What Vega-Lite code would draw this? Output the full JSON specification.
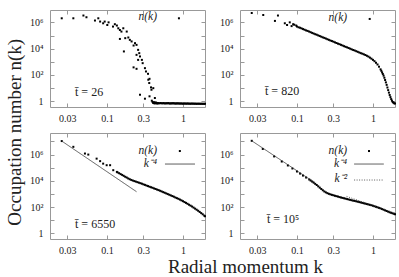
{
"$schema": "https://vega.github.io/schema/vega-lite/v6.json",
"padding": {"left": 6, "right": 2, "top": 9, "bottom": 0},
"config": {
  "view": {"stroke": "#999", "strokeWidth": 1},
  "font": "Liberation Serif",
  "axis": {"domain": false, "grid": false, "tickColor": "#999", "tickSize": -4, "labelFont": "Liberation Serif", "labelFontSize": 10, "labelColor": "#222", "title": null, "labelFlush": false, "labelOverlap": false},
  "axisX": {"labelPadding": 10},
  "axisY": {"labelPadding": 11},
  "title": {"font": "Liberation Serif", "fontWeight": "normal", "color": "#222", "fontSize": 19, "anchor": "middle"}
},
"datasets": {
"pts": [
{"p":1,"k":0.0254,"n":2.04e6},{"p":1,"k":0.0361,"n":2.04e6},{"p":1,"k":0.049,"n":3.31e6},{"p":1,"k":0.0537,"n":2.45e6},{"p":1,"k":0.0695,"n":1.38e6},{"p":1,"k":0.0769,"n":2.04e6},{"p":1,"k":0.0813,"n":1.15e6},{"p":1,"k":0.0891,"n":8.51e5},{"p":1,"k":0.0933,"n":1.15e6},{"p":1,"k":0.105,"n":1.0e6},{"p":1,"k":0.101,"n":6.31e5},{"p":1,"k":0.12,"n":4.79e5},{"p":1,"k":0.127,"n":7.24e5},{"p":1,"k":0.135,"n":5.75e5},{"p":1,"k":0.141,"n":3.55e5},{"p":1,"k":0.148,"n":2.63e5},{"p":1,"k":0.155,"n":2.0e5},{"p":1,"k":0.164,"n":3.55e5},{"p":1,"k":0.182,"n":2.0e5},{"p":1,"k":0.148,"n":5.5e4},{"p":1,"k":0.174,"n":6.31e4},{"p":1,"k":0.191,"n":7.08e4},{"p":1,"k":0.2,"n":4.68e4},{"p":1,"k":0.211,"n":3.55e4},{"p":1,"k":0.234,"n":2.63e4},{"p":1,"k":0.224,"n":1.74e4},{"p":1,"k":0.245,"n":1.95e4},{"p":1,"k":0.167,"n":6170},{"p":1,"k":0.257,"n":8130},{"p":1,"k":0.266,"n":4570},{"p":1,"k":0.245,"n":3390},{"p":1,"k":0.272,"n":2570},{"p":1,"k":0.288,"n":1410},{"p":1,"k":0.257,"n":1410},{"p":1,"k":0.295,"n":794},{"p":1,"k":0.224,"n":380},{"p":1,"k":0.245,"n":295},{"p":1,"k":0.316,"n":331},{"p":1,"k":0.326,"n":186},{"p":1,"k":0.347,"n":123},{"p":1,"k":0.35,"n":43.7},{"p":1,"k":0.363,"n":51.3},{"p":1,"k":0.36,"n":24.5},{"p":1,"k":0.38,"n":11.5},{"p":1,"k":0.385,"n":7.59},{"p":1,"k":0.407,"n":10},{"p":1,"k":0.272,"n":3.16},{"p":1,"k":0.316,"n":1.58},{"p":1,"k":0.363,"n":2.4},{"p":1,"k":0.389,"n":1.12},{"p":1,"k":0.427,"n":1.78},{"p":1,"k":0.407,"n":0.74},{"p":1,"k":0.398,"n":0.9},{"p":1,"k":0.418,"n":0.85},
{"p":1,"k":0.41,"n":0.8},{"p":1,"k":0.415,"n":0.72},{"p":1,"k":0.422,"n":0.76},{"p":1,"k":0.428,"n":0.7},{"p":1,"k":0.435,"n":0.74},{"p":1,"k":0.44,"n":0.82},{"p":1,"k":0.448,"n":0.72},{"p":1,"k":0.455,"n":0.69},{"p":1,"k":0.461,"n":0.75},{"p":1,"k":0.468,"n":0.71},{"p":1,"k":0.475,"n":0.73},{"p":1,"k":0.489,"n":0.7},{"p":1,"k":0.504,"n":0.74},{"p":1,"k":0.519,"n":0.72},{"p":1,"k":0.535,"n":0.7},{"p":1,"k":0.551,"n":0.73},{"p":1,"k":0.567,"n":0.71},{"p":1,"k":0.584,"n":0.69},{"p":1,"k":0.602,"n":0.72},{"p":1,"k":0.62,"n":0.7},{"p":1,"k":0.638,"n":0.73},{"p":1,"k":0.657,"n":0.7},{"p":1,"k":0.677,"n":0.68},{"p":1,"k":0.697,"n":0.71},{"p":1,"k":0.718,"n":0.69},{"p":1,"k":0.74,"n":0.72},{"p":1,"k":0.762,"n":0.69},{"p":1,"k":0.785,"n":0.7},{"p":1,"k":0.808,"n":0.67},{"p":1,"k":0.833,"n":0.71},{"p":1,"k":0.857,"n":0.68},{"p":1,"k":0.883,"n":0.7},{"p":1,"k":0.91,"n":0.67},{"p":1,"k":0.937,"n":0.69},{"p":1,"k":0.965,"n":0.68},{"p":1,"k":0.994,"n":0.66},{"p":1,"k":1.024,"n":0.69},{"p":1,"k":1.055,"n":0.67},{"p":1,"k":1.086,"n":0.68},{"p":1,"k":1.119,"n":0.66},{"p":1,"k":1.152,"n":0.69},{"p":1,"k":1.187,"n":0.66},{"p":1,"k":1.222,"n":0.67},{"p":1,"k":1.259,"n":0.65},{"p":1,"k":1.297,"n":0.68},{"p":1,"k":1.336,"n":0.66},{"p":1,"k":1.376,"n":0.67},{"p":1,"k":1.417,"n":0.65},{"p":1,"k":1.46,"n":0.67},{"p":1,"k":1.503,"n":0.64},{"p":1,"k":1.548,"n":0.66},{"p":1,"k":1.595,"n":0.65},{"p":1,"k":1.643,"n":0.66},{"p":1,"k":1.692,"n":0.64},{"p":1,"k":1.743,"n":0.66},{"p":1,"k":1.795,"n":0.64},{"p":1,"k":1.849,"n":0.65},{"p":1,"k":1.905,"n":0.64},{"p":1,"k":1.95,"n":0.65},
{"p":2,"k":0.0254,"n":5.13e6},{"p":2,"k":0.036,"n":3.63e6},{"p":2,"k":0.0513,"n":1.29e6},{"p":2,"k":0.0562,"n":3.31e6},{"p":2,"k":0.0692,"n":8.51e5},{"p":2,"k":0.0741,"n":6.31e5},{"p":2,"k":0.0804,"n":1.0e6},{"p":2,"k":0.085,"n":5.2e5},{"p":2,"k":0.0891,"n":7.24e5},{"p":2,"k":0.092,"n":6.6e5},{"p":2,"k":0.0977,"n":5.75e5},{"p":2,"k":0.1,"n":4.8e5},{"p":2,"k":0.105,"n":4.2e5},
{"p":2,"k":0.11,"n":389000},{"p":2,"k":0.115,"n":347000},{"p":2,"k":0.1202,"n":309000},{"p":2,"k":0.1259,"n":275000},{"p":2,"k":0.1318,"n":245000},{"p":2,"k":0.138,"n":224000},{"p":2,"k":0.1445,"n":200000},{"p":2,"k":0.1514,"n":178000},{"p":2,"k":0.1585,"n":158000},{"p":2,"k":0.166,"n":141000},{"p":2,"k":0.1738,"n":126000},{"p":2,"k":0.182,"n":115000},{"p":2,"k":0.1905,"n":102000},{"p":2,"k":0.1995,"n":91200},{"p":2,"k":0.2089,"n":81300},{"p":2,"k":0.2188,"n":72400},{"p":2,"k":0.2291,"n":66100},{"p":2,"k":0.2399,"n":58900},{"p":2,"k":0.2512,"n":52500},{"p":2,"k":0.263,"n":46800},{"p":2,"k":0.2754,"n":41700},{"p":2,"k":0.2884,"n":38000},{"p":2,"k":0.302,"n":33900},{"p":2,"k":0.3162,"n":30200},{"p":2,"k":0.3311,"n":26900},{"p":2,"k":0.3467,"n":24000},{"p":2,"k":0.3631,"n":21900},{"p":2,"k":0.3802,"n":19500},{"p":2,"k":0.3981,"n":17400},{"p":2,"k":0.4169,"n":15500},{"p":2,"k":0.4365,"n":13800},{"p":2,"k":0.4571,"n":12600},{"p":2,"k":0.4786,"n":11200},{"p":2,"k":0.5012,"n":10000},{"p":2,"k":0.5248,"n":8910},{"p":2,"k":0.5495,"n":7940},{"p":2,"k":0.5754,"n":7240},{"p":2,"k":0.6026,"n":6460},{"p":2,"k":0.631,"n":5750},{"p":2,"k":0.6607,"n":5130},{"p":2,"k":0.6918,"n":4570},{"p":2,"k":0.7244,"n":4170},{"p":2,"k":0.7586,"n":3720},{"p":2,"k":0.7943,"n":3310},{"p":2,"k":0.8318,"n":2880},{"p":2,"k":0.871,"n":2510},{"p":2,"k":0.912,"n":2090},{"p":2,"k":0.955,"n":1740},{"p":2,"k":1.0,"n":1410},{"p":2,"k":1.047,"n":1120},{"p":2,"k":1.096,"n":851},{"p":2,"k":1.148,"n":631},{"p":2,"k":1.202,"n":427},{"p":2,"k":1.259,"n":269},{"p":2,"k":1.288,"n":209},{"p":2,"k":1.318,"n":158},{"p":2,"k":1.349,"n":120},{"p":2,"k":1.38,"n":89.1},{"p":2,"k":1.413,"n":61.7},{"p":2,"k":1.445,"n":41.7},{"p":2,"k":1.479,"n":27.5},{"p":2,"k":1.514,"n":17.8},{"p":2,"k":1.549,"n":11.2},{"p":2,"k":1.585,"n":7.08},{"p":2,"k":1.622,"n":4.57},{"p":2,"k":1.66,"n":3.02},{"p":2,"k":1.698,"n":2.09},{"p":2,"k":1.738,"n":1.48},{"p":2,"k":1.778,"n":1.12},{"p":2,"k":1.82,"n":0.891},{"p":2,"k":1.862,"n":0.776},{"p":2,"k":1.905,"n":0.708},{"p":2,"k":1.95,"n":0.676},
{"p":3,"k":0.0254,"n":1.07e7},{"p":3,"k":0.0361,"n":3.89e6},{"p":3,"k":0.0513,"n":1.2e6},{"p":3,"k":0.0568,"n":1.0e6},{"p":3,"k":0.0731,"n":4.9e5},{"p":3,"k":0.0813,"n":3.16e5},{"p":3,"k":0.0891,"n":2.04e5},{"p":3,"k":0.0991,"n":1.55e5},{"p":3,"k":0.11,"n":1.55e5},{"p":3,"k":0.121,"n":6.46e4},{"p":3,"k":0.135,"n":4.79e4},
{"p":3,"k":0.138,"n":43600},{"p":3,"k":0.1445,"n":38000},{"p":3,"k":0.1514,"n":32400},{"p":3,"k":0.1585,"n":28200},{"p":3,"k":0.166,"n":24000},{"p":3,"k":0.1738,"n":20400},{"p":3,"k":0.182,"n":17800},{"p":3,"k":0.1905,"n":15100},{"p":3,"k":0.1995,"n":13200},{"p":3,"k":0.2089,"n":11700},{"p":3,"k":0.2188,"n":10500},{"p":3,"k":0.2291,"n":9550},{"p":3,"k":0.2399,"n":8710},{"p":3,"k":0.2512,"n":7940},{"p":3,"k":0.263,"n":7240},{"p":3,"k":0.2754,"n":6610},{"p":3,"k":0.2884,"n":6030},{"p":3,"k":0.302,"n":5370},{"p":3,"k":0.3162,"n":4900},{"p":3,"k":0.3311,"n":4370},{"p":3,"k":0.3467,"n":3980},{"p":3,"k":0.3631,"n":3550},{"p":3,"k":0.3802,"n":3240},{"p":3,"k":0.3981,"n":2950},{"p":3,"k":0.4169,"n":2630},{"p":3,"k":0.4365,"n":2400},{"p":3,"k":0.4571,"n":2140},{"p":3,"k":0.4786,"n":1950},{"p":3,"k":0.5012,"n":1740},{"p":3,"k":0.5248,"n":1550},{"p":3,"k":0.5495,"n":1380},{"p":3,"k":0.5754,"n":1230},{"p":3,"k":0.6026,"n":1100},{"p":3,"k":0.631,"n":977},{"p":3,"k":0.6607,"n":871},{"p":3,"k":0.6918,"n":776},{"p":3,"k":0.7244,"n":692},{"p":3,"k":0.7586,"n":617},{"p":3,"k":0.7943,"n":537},{"p":3,"k":0.8318,"n":479},{"p":3,"k":0.871,"n":427},{"p":3,"k":0.912,"n":372},{"p":3,"k":0.955,"n":324},{"p":3,"k":1.0,"n":282},{"p":3,"k":1.047,"n":240},{"p":3,"k":1.096,"n":209},{"p":3,"k":1.148,"n":178},{"p":3,"k":1.202,"n":151},{"p":3,"k":1.259,"n":129},{"p":3,"k":1.318,"n":110},{"p":3,"k":1.38,"n":91.2},{"p":3,"k":1.445,"n":75.9},{"p":3,"k":1.514,"n":63.1},{"p":3,"k":1.585,"n":52.5},{"p":3,"k":1.66,"n":42.7},{"p":3,"k":1.738,"n":34.7},{"p":3,"k":1.82,"n":28.2},{"p":3,"k":1.905,"n":22.4},{"p":3,"k":1.95,"n":20.0},
{"p":4,"k":0.0254,"n":1.12e7},{"p":4,"k":0.0355,"n":2.69e6},{"p":4,"k":0.0501,"n":7.24e5},{"p":4,"k":0.0631,"n":2.95e5},{"p":4,"k":0.0759,"n":1.48e5},{"p":4,"k":0.0871,"n":8.71e4},{"p":4,"k":0.1,"n":5.13e4},{"p":4,"k":0.11,"n":3.55e4},{"p":4,"k":0.12,"n":2.51e4},{"p":4,"k":0.132,"n":1.78e4},{"p":4,"k":0.145,"n":1.26e4},
{"p":4,"k":0.1514,"n":10500},{"p":4,"k":0.1585,"n":8710},{"p":4,"k":0.166,"n":7240},{"p":4,"k":0.1738,"n":5890},{"p":4,"k":0.182,"n":4790},{"p":4,"k":0.1905,"n":3800},{"p":4,"k":0.1995,"n":3020},{"p":4,"k":0.2089,"n":2400},{"p":4,"k":0.2188,"n":1910},{"p":4,"k":0.2291,"n":1550},{"p":4,"k":0.2399,"n":1320},{"p":4,"k":0.2512,"n":1150},{"p":4,"k":0.263,"n":1020},{"p":4,"k":0.2754,"n":933},{"p":4,"k":0.2884,"n":851},{"p":4,"k":0.302,"n":794},{"p":4,"k":0.3162,"n":724},{"p":4,"k":0.3311,"n":676},{"p":4,"k":0.3467,"n":631},{"p":4,"k":0.3631,"n":575},{"p":4,"k":0.3802,"n":537},{"p":4,"k":0.3981,"n":501},{"p":4,"k":0.4169,"n":468},{"p":4,"k":0.4365,"n":437},{"p":4,"k":0.4571,"n":407},{"p":4,"k":0.4786,"n":380},{"p":4,"k":0.5012,"n":355},{"p":4,"k":0.5248,"n":331},{"p":4,"k":0.5495,"n":309},{"p":4,"k":0.5754,"n":295},{"p":4,"k":0.6026,"n":275},{"p":4,"k":0.631,"n":257},{"p":4,"k":0.6607,"n":240},{"p":4,"k":0.6918,"n":224},{"p":4,"k":0.7244,"n":209},{"p":4,"k":0.7586,"n":195},{"p":4,"k":0.7943,"n":182},{"p":4,"k":0.8318,"n":170},{"p":4,"k":0.871,"n":158},{"p":4,"k":0.912,"n":148},{"p":4,"k":0.955,"n":138},{"p":4,"k":1.0,"n":126},{"p":4,"k":1.047,"n":115},{"p":4,"k":1.096,"n":105},{"p":4,"k":1.148,"n":95.5},{"p":4,"k":1.202,"n":87.1},{"p":4,"k":1.259,"n":79.4},{"p":4,"k":1.318,"n":70.8},{"p":4,"k":1.38,"n":63.1},{"p":4,"k":1.445,"n":56.2},{"p":4,"k":1.514,"n":50.1},{"p":4,"k":1.585,"n":44.7},{"p":4,"k":1.66,"n":39.8},{"p":4,"k":1.738,"n":36.3},{"p":4,"k":1.82,"n":33.1},{"p":4,"k":1.905,"n":30.2},{"p":4,"k":1.95,"n":28.8}
],
"keys": [{"p":1,"k":0.885,"n":2.04e6},{"p":2,"k":0.906,"n":1.82e6},{"p":3,"k":0.91,"n":1.86e6},{"p":4,"k":0.887,"n":1.86e6}],
"leg": [{"p":1,"k":0.455,"n":2.4e6,"t":"n(k)"},{"p":2,"k":0.457,"n":2.0e6,"t":"n(k)"},{"p":3,"k":0.455,"n":2.0e6,"t":"n(k)"},{"p":3,"k":0.455,"n":1.9e5,"t":"k⁻⁴"},{"p":4,"k":0.457,"n":2.0e6,"t":"n(k)"},{"p":4,"k":0.457,"n":1.9e5,"t":"k⁻⁴"},{"p":4,"k":0.457,"n":1.37e4,"t":"k⁻²"}],
"tt": [{"p":1,"k":0.038,"n":5.0,"t":"t̄ = 26"},{"p":2,"k":0.038,"n":6.3,"t":"t̄ = 820"},{"p":3,"k":0.038,"n":5.1,"t":"t̄ = 6550"},{"p":4,"k":0.0403,"n":12.3,"t":"t̄ = 10⁵"}],
"lines": [
{"p":3,"s":"f4","d":"k4","k":0.0254,"n":1.07e7},{"p":3,"s":"f4","d":"k4","k":0.245,"n":1480},
{"p":3,"s":"g4","d":"k4","k":0.58,"n":1.9e5},{"p":3,"s":"g4","d":"k4","k":1.44,"n":1.9e5},
{"p":4,"s":"f4","d":"k4","k":0.0254,"n":1.12e7},{"p":4,"s":"f4","d":"k4","k":0.17,"n":7600},
{"p":4,"s":"f2","d":"k2","k":0.45,"n":650},{"p":4,"s":"f2","d":"k2","k":1.95,"n":34.6},
{"p":4,"s":"g4","d":"k4","k":0.565,"n":1.9e5},{"p":4,"s":"g4","d":"k4","k":1.39,"n":1.9e5},
{"p":4,"s":"g2","d":"k2","k":0.565,"n":1.15e4},{"p":4,"s":"g2","d":"k2","k":1.39,"n":1.15e4}
]
},
"title": {"text": "Radial momentum k", "orient": "bottom", "offset": 2, "dx": 44, "font": "Liberation Serif"},
"vconcat": [{
"title": {"text": "Occupation number n(k)", "orient": "left", "offset": 4, "font": "Liberation Serif"},
"columns": 2,
"spacing": {"row": 8, "column": 12},
"concat": [
{"width": 155, "height": 97, "resolve": {"axis": {"x": "independent", "y": "independent"}},
 "layer": [
  {"data": {"name": "pts"}, "transform": [{"filter": "datum.p == 1"}], "mark": {"type": "square", "size": 4, "color": "#000", "opacity": 1},
   "encoding": {"x": {"field": "k", "type": "quantitative", "scale": {"type": "log", "domain": [0.0178, 1.95], "nice": false}, "axis": {"orient": "bottom", "values": [0.03, 0.1, 0.3, 1], "format": "~g"}},
                "y": {"field": "n", "type": "quantitative", "scale": {"type": "log", "domain": [0.37, 8.7e6], "nice": false}, "axis": {"orient": "left", "values": [1,10,100,1000,10000,100000,1000000], "labelExpr": "datum.value==1?'1':datum.value==100?'10²':datum.value==10000?'10⁴':datum.value==1000000?'10⁶':''"}}}},
  {"data": {"name": "tt"}, "transform": [{"filter": "datum.p == 1"}], "mark": {"type": "text", "align": "left", "baseline": "middle", "fontSize": 12, "font": "Liberation Serif", "color": "#222"},
   "encoding": {"x": {"field": "k", "type": "quantitative", "scale": {"type": "log", "domain": [0.0178, 1.95], "nice": false}, "axis": {"orient": "top", "values": [0.03, 0.1, 0.3, 1], "labels": false}},
                "y": {"field": "n", "type": "quantitative", "scale": {"type": "log", "domain": [0.37, 8.7e6], "nice": false}, "axis": {"orient": "right", "values": [1,10,100,1000,10000,100000,1000000], "labels": false}}, "text": {"field": "t"}}},
  {"data": {"name": "leg"}, "transform": [{"filter": "datum.p == 1"}], "mark": {"type": "text", "align": "right", "baseline": "middle", "fontSize": 11.5, "font": "Liberation Serif", "fontStyle": "italic", "color": "#222"},
   "encoding": {"x": {"field": "k", "type": "quantitative", "axis": null}, "y": {"field": "n", "type": "quantitative", "axis": null}, "text": {"field": "t"}}},
  {"data": {"name": "keys"}, "transform": [{"filter": "datum.p == 1"}], "mark": {"type": "square", "size": 4, "color": "#000", "opacity": 1},
   "encoding": {"x": {"field": "k", "type": "quantitative", "axis": null}, "y": {"field": "n", "type": "quantitative", "axis": null}}}
 ]},
{"width": 155, "height": 97, "resolve": {"axis": {"x": "independent", "y": "independent"}},
 "layer": [
  {"data": {"name": "pts"}, "transform": [{"filter": "datum.p == 2"}], "mark": {"type": "square", "size": 4, "color": "#000", "opacity": 1},
   "encoding": {"x": {"field": "k", "type": "quantitative", "scale": {"type": "log", "domain": [0.0178, 1.95], "nice": false}, "axis": {"orient": "bottom", "values": [0.03, 0.1, 0.3, 1], "format": "~g"}},
                "y": {"field": "n", "type": "quantitative", "scale": {"type": "log", "domain": [0.37, 8.7e6], "nice": false}, "axis": {"orient": "left", "values": [1,10,100,1000,10000,100000,1000000], "labelExpr": "datum.value==1?'1':datum.value==100?'10²':datum.value==10000?'10⁴':datum.value==1000000?'10⁶':''"}}}},
  {"data": {"name": "tt"}, "transform": [{"filter": "datum.p == 2"}], "mark": {"type": "text", "align": "left", "baseline": "middle", "fontSize": 12, "font": "Liberation Serif", "color": "#222"},
   "encoding": {"x": {"field": "k", "type": "quantitative", "scale": {"type": "log", "domain": [0.0178, 1.95], "nice": false}, "axis": {"orient": "top", "values": [0.03, 0.1, 0.3, 1], "labels": false}},
                "y": {"field": "n", "type": "quantitative", "scale": {"type": "log", "domain": [0.37, 8.7e6], "nice": false}, "axis": {"orient": "right", "values": [1,10,100,1000,10000,100000,1000000], "labels": false}}, "text": {"field": "t"}}},
  {"data": {"name": "leg"}, "transform": [{"filter": "datum.p == 2"}], "mark": {"type": "text", "align": "right", "baseline": "middle", "fontSize": 11.5, "font": "Liberation Serif", "fontStyle": "italic", "color": "#222"},
   "encoding": {"x": {"field": "k", "type": "quantitative", "axis": null}, "y": {"field": "n", "type": "quantitative", "axis": null}, "text": {"field": "t"}}},
  {"data": {"name": "keys"}, "transform": [{"filter": "datum.p == 2"}], "mark": {"type": "square", "size": 4, "color": "#000", "opacity": 1},
   "encoding": {"x": {"field": "k", "type": "quantitative", "axis": null}, "y": {"field": "n", "type": "quantitative", "axis": null}}}
 ]},
{"width": 155, "height": 106, "resolve": {"axis": {"x": "independent", "y": "independent"}},
 "layer": [
  {"data": {"name": "pts"}, "transform": [{"filter": "datum.p == 3"}], "mark": {"type": "square", "size": 4, "color": "#000", "opacity": 1},
   "encoding": {"x": {"field": "k", "type": "quantitative", "scale": {"type": "log", "domain": [0.0178, 1.95], "nice": false}, "axis": {"orient": "bottom", "values": [0.03, 0.1, 0.3, 1], "format": "~g"}},
                "y": {"field": "n", "type": "quantitative", "scale": {"type": "log", "domain": [0.37, 4.4e7], "nice": false}, "axis": {"orient": "left", "values": [1,10,100,1000,10000,100000,1000000,10000000], "labelExpr": "datum.value==1?'1':datum.value==100?'10²':datum.value==10000?'10⁴':datum.value==1000000?'10⁶':''"}}}},
  {"data": {"name": "tt"}, "transform": [{"filter": "datum.p == 3"}], "mark": {"type": "text", "align": "left", "baseline": "middle", "fontSize": 12, "font": "Liberation Serif", "color": "#222"},
   "encoding": {"x": {"field": "k", "type": "quantitative", "scale": {"type": "log", "domain": [0.0178, 1.95], "nice": false}, "axis": {"orient": "top", "values": [0.03, 0.1, 0.3, 1], "labels": false}},
                "y": {"field": "n", "type": "quantitative", "scale": {"type": "log", "domain": [0.37, 4.4e7], "nice": false}, "axis": {"orient": "right", "values": [1,10,100,1000,10000,100000,1000000,10000000], "labels": false}}, "text": {"field": "t"}}},
  {"data": {"name": "lines"}, "transform": [{"filter": "datum.p == 3"}], "mark": {"type": "line", "color": "#333", "strokeWidth": 0.8},
   "encoding": {"x": {"field": "k", "type": "quantitative", "axis": null}, "y": {"field": "n", "type": "quantitative", "axis": null}, "detail": {"field": "s"},
                "strokeDash": {"field": "d", "type": "nominal", "scale": {"domain": ["k4", "k2"], "range": [[1, 0], [1, 1.5]]}, "legend": null}}},
  {"data": {"name": "leg"}, "transform": [{"filter": "datum.p == 3"}], "mark": {"type": "text", "align": "right", "baseline": "middle", "fontSize": 11.5, "font": "Liberation Serif", "fontStyle": "italic", "color": "#222"},
   "encoding": {"x": {"field": "k", "type": "quantitative", "axis": null}, "y": {"field": "n", "type": "quantitative", "axis": null}, "text": {"field": "t"}}},
  {"data": {"name": "keys"}, "transform": [{"filter": "datum.p == 3"}], "mark": {"type": "square", "size": 4, "color": "#000", "opacity": 1},
   "encoding": {"x": {"field": "k", "type": "quantitative", "axis": null}, "y": {"field": "n", "type": "quantitative", "axis": null}}}
 ]},
{"width": 155, "height": 106, "resolve": {"axis": {"x": "independent", "y": "independent"}},
 "layer": [
  {"data": {"name": "pts"}, "transform": [{"filter": "datum.p == 4"}], "mark": {"type": "square", "size": 4, "color": "#000", "opacity": 1},
   "encoding": {"x": {"field": "k", "type": "quantitative", "scale": {"type": "log", "domain": [0.0178, 1.95], "nice": false}, "axis": {"orient": "bottom", "values": [0.03, 0.1, 0.3, 1], "format": "~g"}},
                "y": {"field": "n", "type": "quantitative", "scale": {"type": "log", "domain": [0.37, 4.4e7], "nice": false}, "axis": {"orient": "left", "values": [1,10,100,1000,10000,100000,1000000,10000000], "labelExpr": "datum.value==1?'1':datum.value==100?'10²':datum.value==10000?'10⁴':datum.value==1000000?'10⁶':''"}}}},
  {"data": {"name": "tt"}, "transform": [{"filter": "datum.p == 4"}], "mark": {"type": "text", "align": "left", "baseline": "middle", "fontSize": 12, "font": "Liberation Serif", "color": "#222"},
   "encoding": {"x": {"field": "k", "type": "quantitative", "scale": {"type": "log", "domain": [0.0178, 1.95], "nice": false}, "axis": {"orient": "top", "values": [0.03, 0.1, 0.3, 1], "labels": false}},
                "y": {"field": "n", "type": "quantitative", "scale": {"type": "log", "domain": [0.37, 4.4e7], "nice": false}, "axis": {"orient": "right", "values": [1,10,100,1000,10000,100000,1000000,10000000], "labels": false}}, "text": {"field": "t"}}},
  {"data": {"name": "lines"}, "transform": [{"filter": "datum.p == 4"}], "mark": {"type": "line", "color": "#333", "strokeWidth": 0.8},
   "encoding": {"x": {"field": "k", "type": "quantitative", "axis": null}, "y": {"field": "n", "type": "quantitative", "axis": null}, "detail": {"field": "s"},
                "strokeDash": {"field": "d", "type": "nominal", "scale": {"domain": ["k4", "k2"], "range": [[1, 0], [1, 1.5]]}, "legend": null}}},
  {"data": {"name": "leg"}, "transform": [{"filter": "datum.p == 4"}], "mark": {"type": "text", "align": "right", "baseline": "middle", "fontSize": 11.5, "font": "Liberation Serif", "fontStyle": "italic", "color": "#222"},
   "encoding": {"x": {"field": "k", "type": "quantitative", "axis": null}, "y": {"field": "n", "type": "quantitative", "axis": null}, "text": {"field": "t"}}},
  {"data": {"name": "keys"}, "transform": [{"filter": "datum.p == 4"}], "mark": {"type": "square", "size": 4, "color": "#000", "opacity": 1},
   "encoding": {"x": {"field": "k", "type": "quantitative", "axis": null}, "y": {"field": "n", "type": "quantitative", "axis": null}}}
 ]}
]
}]
}
